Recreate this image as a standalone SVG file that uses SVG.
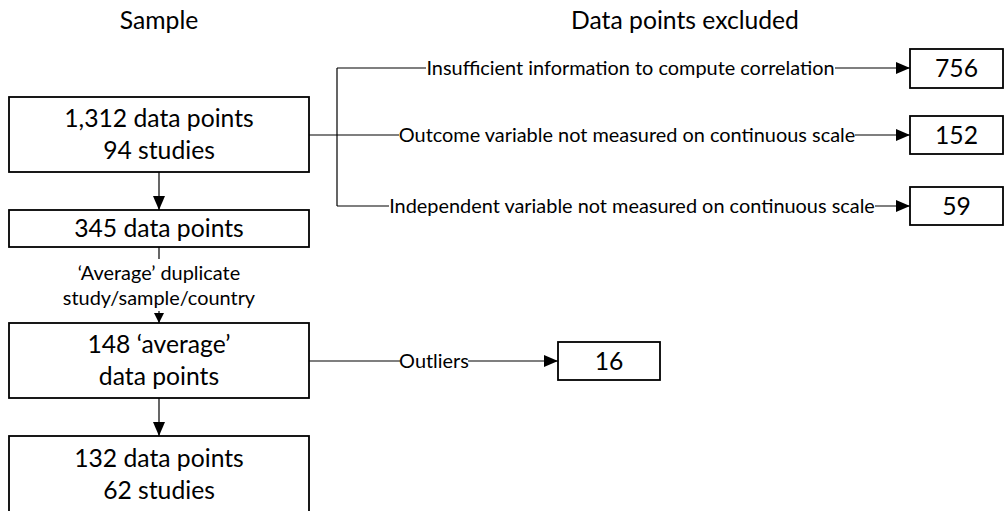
<svg xmlns="http://www.w3.org/2000/svg" width="1004" height="511" viewBox="0 0 1004 511">
<style>
.box{fill:#fff;stroke:#000;stroke-width:1.8}
.big{font-family:Lato,"Liberation Sans",sans-serif;font-size:24.7px;fill:#000;text-anchor:middle}
.sm{font-family:Lato,"Liberation Sans",sans-serif;font-size:19.9px;fill:#000;text-anchor:middle}
.ln{fill:none;stroke:#000;stroke-width:1.2}
</style>
<defs>
<marker id="arr" markerWidth="14" markerHeight="12" refX="14" refY="6" orient="auto" markerUnits="userSpaceOnUse"><path d="M0,0 L14,6 L0,12 Z" fill="#000"/></marker>
<marker id="arrs" markerWidth="10" markerHeight="10" refX="10" refY="5" orient="auto" markerUnits="userSpaceOnUse"><path d="M0,0 L10,5 L0,10 Z" fill="#000"/></marker>
</defs>
<g id="headers">
<text class="big" x="159" y="29">Sample</text>
<text class="big" x="685" y="29">Data points excluded</text>
</g>
<g id="connectors">
<line class="ln" x1="159" y1="172" x2="159" y2="210" marker-end="url(#arr)"/>
<line class="ln" x1="159" y1="247" x2="159" y2="259"/>
<line class="ln" x1="159" y1="311" x2="159" y2="323" marker-end="url(#arrs)"/>
<line class="ln" x1="159" y1="398" x2="159" y2="436" marker-end="url(#arr)"/>
<path class="ln" d="M309,135 H337 M337,68 V206"/>
<line class="ln" x1="337" y1="68" x2="426" y2="68"/>
<line class="ln" x1="835" y1="68" x2="910" y2="68" marker-end="url(#arr)"/>
<line class="ln" x1="337" y1="135" x2="399" y2="135"/>
<line class="ln" x1="855" y1="135" x2="910" y2="135" marker-end="url(#arr)"/>
<line class="ln" x1="337" y1="206" x2="389" y2="206"/>
<line class="ln" x1="875" y1="206" x2="910" y2="206" marker-end="url(#arr)"/>
<line class="ln" x1="309" y1="361" x2="400" y2="361"/>
<line class="ln" x1="468" y1="361" x2="558" y2="361" marker-end="url(#arr)"/>
<text class="sm" x="159" y="280">‘Average’ duplicate</text>
<text class="sm" x="159" y="305">study/sample/country</text>
<text class="sm" x="630.5" y="75">Insufficient information to compute correlation</text>
<text class="sm" x="627" y="142">Outcome variable not measured on continuous scale</text>
<text class="sm" x="632" y="213">Independent variable not measured on continuous scale</text>
<text class="sm" x="434" y="368">Outliers</text>
</g>
<g id="n1">
<rect class="box" x="9" y="97" width="300" height="75"/>
<text class="big" x="159" y="127">1,312 data points</text>
<text class="big" x="159" y="159">94 studies</text>
</g>
<g id="n2">
<rect class="box" x="9" y="210" width="300" height="37"/>
<text class="big" x="159" y="237">345 data points</text>
</g>
<g id="n3">
<rect class="box" x="9" y="323" width="300" height="75"/>
<text class="big" x="159" y="353">148 ‘average’</text>
<text class="big" x="159" y="385">data points</text>
</g>
<g id="n4">
<rect class="box" x="9" y="436" width="300" height="78"/>
<text class="big" x="159" y="467">132 data points</text>
<text class="big" x="159" y="499">62 studies</text>
</g>
<g id="e1">
<rect class="box" x="910" y="49" width="93" height="39"/>
<text class="big" x="956.5" y="77">756</text>
</g>
<g id="e2">
<rect class="box" x="910" y="116" width="93" height="38"/>
<text class="big" x="956.5" y="144">152</text>
</g>
<g id="e3">
<rect class="box" x="910" y="187" width="93" height="38"/>
<text class="big" x="956.5" y="215">59</text>
</g>
<g id="e4">
<rect class="box" x="558" y="342" width="102" height="38"/>
<text class="big" x="609" y="370">16</text>
</g>
</svg>
